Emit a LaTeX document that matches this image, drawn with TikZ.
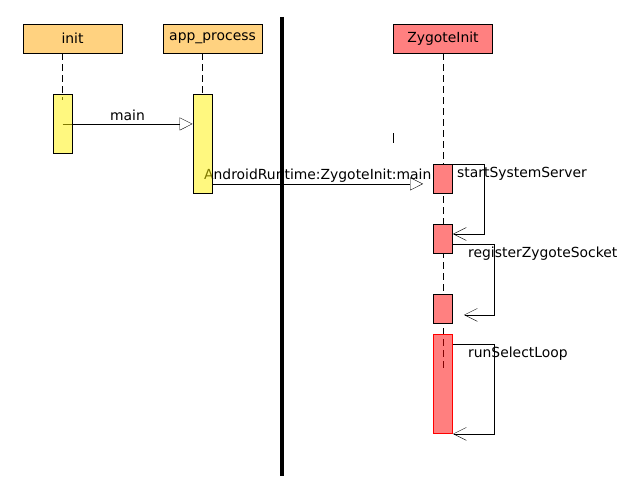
\documentclass[tikz,border=0pt]{standalone}
\usepackage{fontspec}
\setmainfont{DejaVu Sans}
\usetikzlibrary{arrows.meta,positioning,calc}
\definecolor{headorange}{RGB}{255,210,128}
\pgfdeclarelayer{bg}
\pgfdeclarelayer{fg}
\pgfsetlayers{bg,main,fg}

\begin{document}
\begin{tikzpicture}[x=1pt,y=-1pt,line width=0.9pt,
    font=\fontsize{13.9pt}{16pt}\selectfont,
    head/.style={draw,fill=headorange,minimum width=99pt,minimum height=29pt,inner sep=0pt},
    zhead/.style={head,fill=red!50},
    actbox/.style={draw,fill=yellow,fill opacity=0.5,minimum width=19pt,inner sep=0pt,anchor=north},
    zact/.style={draw,fill=red!50,minimum width=19pt,inner sep=0pt,anchor=north},
    life/.style={dash pattern=on 7pt off 4pt},
    call/.style={-{Triangle[open,length=13pt,width=13pt]}},
    selfcall/.style={-{Straight Barb[length=13pt,width=13pt]}},
    lbl/.style={inner sep=0pt}]
  \useasboundingbox (0,0) rectangle (644,476);

  %% Participants
  \node[head] (init) at (72.5,38.5) {init};
  \node[head] (app) at (212.5,38.5) {app\_process};
  \node[zhead] (zyg) at (443,38.5) {ZygoteInit};

  %% Activation bars
  \node[actbox,minimum height=59pt] (initact) at (62.5,94) {};
  \node[actbox,minimum height=99pt] (appact) at (202.5,94) {};
  \node[zact,minimum height=29pt] (zact1) at (443,164) {};
  \node[zact,minimum height=29pt] (zact2) at (443,224) {};
  \node[zact,minimum height=29pt] (zact3) at (443,294) {};
  \node[zact,draw=red,fill=red,fill opacity=0.5,minimum height=99pt] (zact4) at (443,334) {};

  \begin{pgfonlayer}{bg}
    %% Lifelines
    \draw[life] (init.south -| initact.north) -- ([yshift=-6pt]initact.north);
    \draw[life] (app.south -| appact.north) -- (appact.north);
    \draw[life] (zyg.south) -- ([yshift=-36pt]zact4.north);

    %% Messages
    \draw[call] (initact.center) -- (initact.center -| appact.west)
          node[lbl,midway,anchor=base,yshift=3.5pt] (mainlbl) {main};
    \draw[call] ([yshift=10pt]appact.south east) -- ([xshift=-10pt,yshift=10pt]zact1.south west)
          node[lbl,midway,anchor=base,yshift=4pt] (rtlbl) {AndroidRuntime:ZygoteInit:main};

    %% Self calls on ZygoteInit
    \draw[selfcall] (zact1.north east) -- ++(31,0) |- ([yshift=-10pt]zact2.north east);
    \node[lbl,anchor=base west] (sslbl) at ([xshift=4pt,yshift=-13.7pt]zact1.north east) {startSystemServer};
    \draw[selfcall] ([yshift=-20pt]zact2.north east) -- ++(41,0) |- ([xshift=11pt,yshift=9pt]zact3.south east);
    \node[lbl,anchor=base west] (rzlbl) at ([xshift=15pt,yshift=-33pt]zact2.north east) {registerZygoteSocket};
    \draw[selfcall] ([yshift=-10pt]zact4.north east) -- ++(41,0) |- (zact4.south east);
    \node[lbl,anchor=base west] (rslbl) at ([xshift=15pt,yshift=-23pt]zact4.north east) {runSelectLoop};

    \draw[line width=0.8pt] (393,133) -- (393,143);
  \end{pgfonlayer}

  %% Separator
  \begin{pgfonlayer}{fg}
    \draw[line width=4.5pt] (282,17) -- (282,476);
  \end{pgfonlayer}
\end{tikzpicture}
\end{document}
